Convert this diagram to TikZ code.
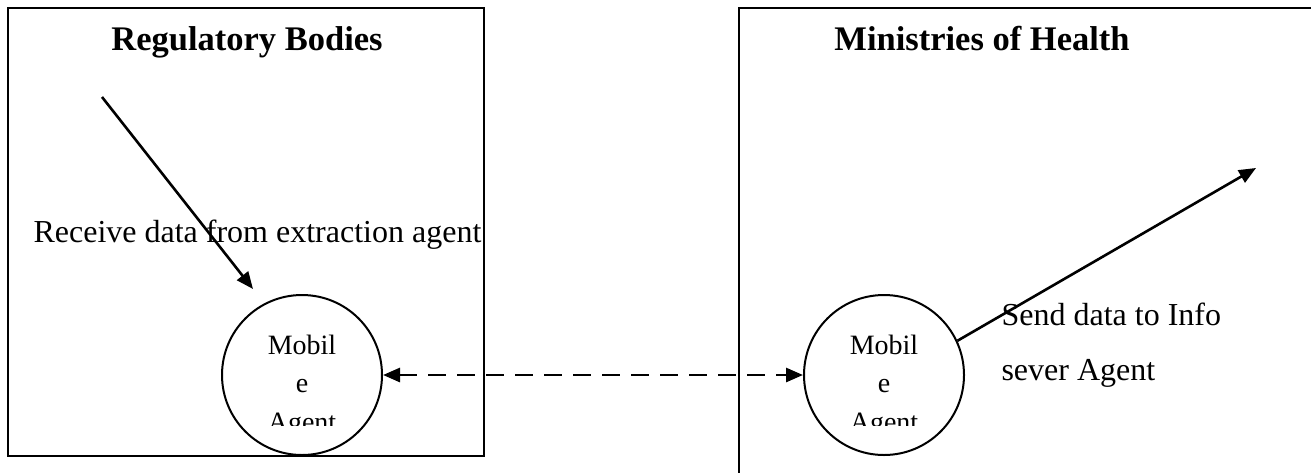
\documentclass[tikz,border=0pt]{standalone}
\usepackage{fontspec}
\setmainfont{Liberation Serif}
\usetikzlibrary{arrows.meta}
\begin{document}
\begin{tikzpicture}[x=1pt,y=-1pt,
  boxline/.style={line width=2.2pt},
  agent/.style={circle,draw,line width=2pt,minimum size=160pt,inner sep=0pt},
  tip/.style={Triangle[length=17pt,width=14pt]},
  flow/.style={line width=2.6pt,-{Triangle[length=17pt,width=14pt]}},
  title/.style={font=\fontsize{34.5}{38}\selectfont\bfseries,anchor=base},
  lbl/.style={font=\fontsize{32}{36}\selectfont,anchor=base west},
  intext/.style={font=\fontsize{28}{30}\selectfont,anchor=base}]
\useasboundingbox (0,0) rectangle (1311,472);
\clip (0,0) rectangle (1311,472);

% the two organisation frames
\draw[boxline] (8,8) rectangle (484,456);
\draw[boxline] (739,8) rectangle (1340,500);
\node[title] (t1) at (247,50) {Regulatory Bodies};
\node[title] (t2) at (982,50) {Ministries of Health};

% mobile agents
\node[agent] (ma1) at (302,375) {};
\node[agent] (ma2) at (884,375) {};
\begin{scope}
  \clip (222,320) rectangle (383,425);
  \node[intext] (m1a) at (302,354) {Mobil};
  \node[intext] (m1b) at (302,392) {e};
  \node[intext] (m1c) at (302,431) {Agent};
\end{scope}
\begin{scope}
  \clip (804,320) rectangle (964,425);
  \node[intext] (m2a) at (884,354) {Mobil};
  \node[intext] (m2b) at (884,392) {e};
  \node[intext] (m2c) at (884,431) {Agent};
\end{scope}

% labels
\node[lbl] (rcv) at (30,242) {Receive data from extraction agent};
\node[lbl] (snd1) at (998,325) {Send data to Info};
\node[lbl] (snd2) at (998,380) {sever Agent};

% connectors
\coordinate (src) at (102,97);
\coordinate (rcvend) at (253,289);
\coordinate (dst) at (1256,168);
\draw[flow] (src) -- (rcvend);
\draw[flow] (ma2.25) -- (dst);
\draw[line width=2.8pt,dash pattern=on 18pt off 11pt,{Triangle[length=17pt,width=14pt]}-{Triangle[length=17pt,width=14pt]}]
  (ma1.east) -- (ma2.west);
\end{tikzpicture}
\end{document}
